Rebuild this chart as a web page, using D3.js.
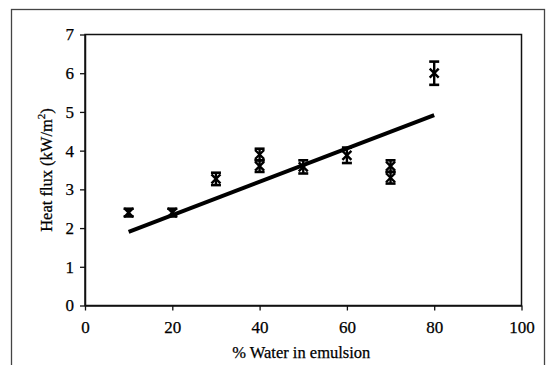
<!DOCTYPE html>
<html>
<head>
<meta charset="utf-8">
<script src="https://cdn.jsdelivr.net/npm/d3@7"></script>
<style>
  body { margin: 0; background: #fff; }
  svg text { font-family: "Times New Roman", Times, "Liberation Serif", "DejaVu Serif", serif !important; fill: #000; stroke: #000; stroke-width: 0.25px; }
</style>
</head>
<body>
<div id="root"></div>
<script>
const width = 550
const height = 365

// measurements: % water, heat flux, error (+/-)
const water = [10, 20, 30, 40, 40, 50, 60, 70, 70, 80]
const flux = [2.4, 2.4, 3.27, 3.9, 3.6, 3.58, 3.88, 3.6, 3.3, 6.0]
const err = [0.1, 0.1, 0.16, 0.15, 0.15, 0.17, 0.2, 0.15, 0.15, 0.3]

// model line endpoints
const lineX = [10, 80]
const lineY = [1.9, 4.92]

const xTicks = [0, 20, 40, 60, 80, 100]
const yTicks = [0, 1, 2, 3, 4, 5, 6, 7]

const margin = { left: 85, right: 28.5, top: 34.5, bottom: 59.5 }
const fs = 17

const svg = d3.select('#root').append('svg')
  .attr('width', width)
  .attr('height', height)

// outer border
svg.append('rect')
  .attr('x', 11.5).attr('y', 9.5)
  .attr('width', 533).attr('height', 370)
  .attr('fill', 'none')
  .attr('stroke', '#444')
  .attr('stroke-width', 1.3)

const x = d3.scaleLinear().domain([0, 100]).range([margin.left, width - margin.right])
const y = d3.scaleLinear().domain([0, 7]).range([height - margin.bottom, margin.top])

// plot frame
svg.append('rect')
  .attr('x', x(0)).attr('y', y(7))
  .attr('width', x(100) - x(0)).attr('height', y(0) - y(7))
  .attr('fill', 'none')
  .attr('stroke', '#111')
  .attr('stroke-width', 1.5)

const xAxis = svg.append('g')
  .attr('transform', `translate(0,${y(0)})`)
  .call(d3.axisBottom(x).tickValues(xTicks).tickFormat(d3.format('d')).tickSize(5).tickPadding(10).tickSizeOuter(0))
xAxis.select('.domain').attr('stroke', '#111').attr('stroke-width', 1.5)
xAxis.selectAll('line').attr('stroke', '#111').attr('stroke-width', 1.3)
xAxis.selectAll('text').attr('font-size', fs)

const yAxis = svg.append('g')
  .attr('transform', `translate(${x(0)},0)`)
  .call(d3.axisLeft(y).tickValues(yTicks).tickFormat(d3.format('d')).tickSize(5).tickPadding(6).tickSizeOuter(0))
yAxis.select('.domain').attr('stroke', '#111').attr('stroke-width', 1.5)
yAxis.selectAll('line').attr('stroke', '#111').attr('stroke-width', 1.3)
yAxis.selectAll('text').attr('font-size', fs)

// axis titles
svg.append('text')
  .attr('x', (x(0) + x(100)) / 2 - 2)
  .attr('y', 358)
  .attr('text-anchor', 'middle')
  .attr('font-size', 16.5)
  .text('% Water in emulsion')

const yt = svg.append('text')
  .attr('transform', `translate(52,${(y(0) + y(7)) / 2}) rotate(-90)`)
  .attr('text-anchor', 'middle')
  .attr('font-size', 16.5)
yt.append('tspan').text('Heat flux (kW/m')
yt.append('tspan').attr('dy', -7).attr('font-size', 11).text('2')
yt.append('tspan').attr('dy', 7).text(')')

// model line
svg.append('line')
  .attr('x1', x(lineX[0])).attr('y1', y(lineY[0]))
  .attr('x2', x(lineX[1])).attr('y2', y(lineY[1]))
  .attr('stroke', '#000')
  .attr('stroke-width', 4)

// error bars + x markers
const pts = water.map((w, i) => ({ w, f: flux[i], e: err[i] }))
const cap = 5
const mk = 4.5
const g = svg.append('g').attr('stroke', '#000').attr('stroke-width', 2.4).attr('fill', 'none')
pts.forEach(d => {
  const cx = x(d.w)
  const cy = y(d.f)
  const top = y(d.f + d.e)
  const bot = y(d.f - d.e)
  g.append('line').attr('x1', cx).attr('x2', cx).attr('y1', top).attr('y2', bot)
  g.append('line').attr('x1', cx - cap).attr('x2', cx + cap).attr('y1', top).attr('y2', top).attr('stroke-width', 2.6)
  g.append('line').attr('x1', cx - cap).attr('x2', cx + cap).attr('y1', bot).attr('y2', bot).attr('stroke-width', 2.6)
  g.append('path')
    .attr('d', `M${cx - mk},${cy - mk}L${cx + mk},${cy + mk}M${cx - mk},${cy + mk}L${cx + mk},${cy - mk}`)
})
</script>
</body>
</html>
